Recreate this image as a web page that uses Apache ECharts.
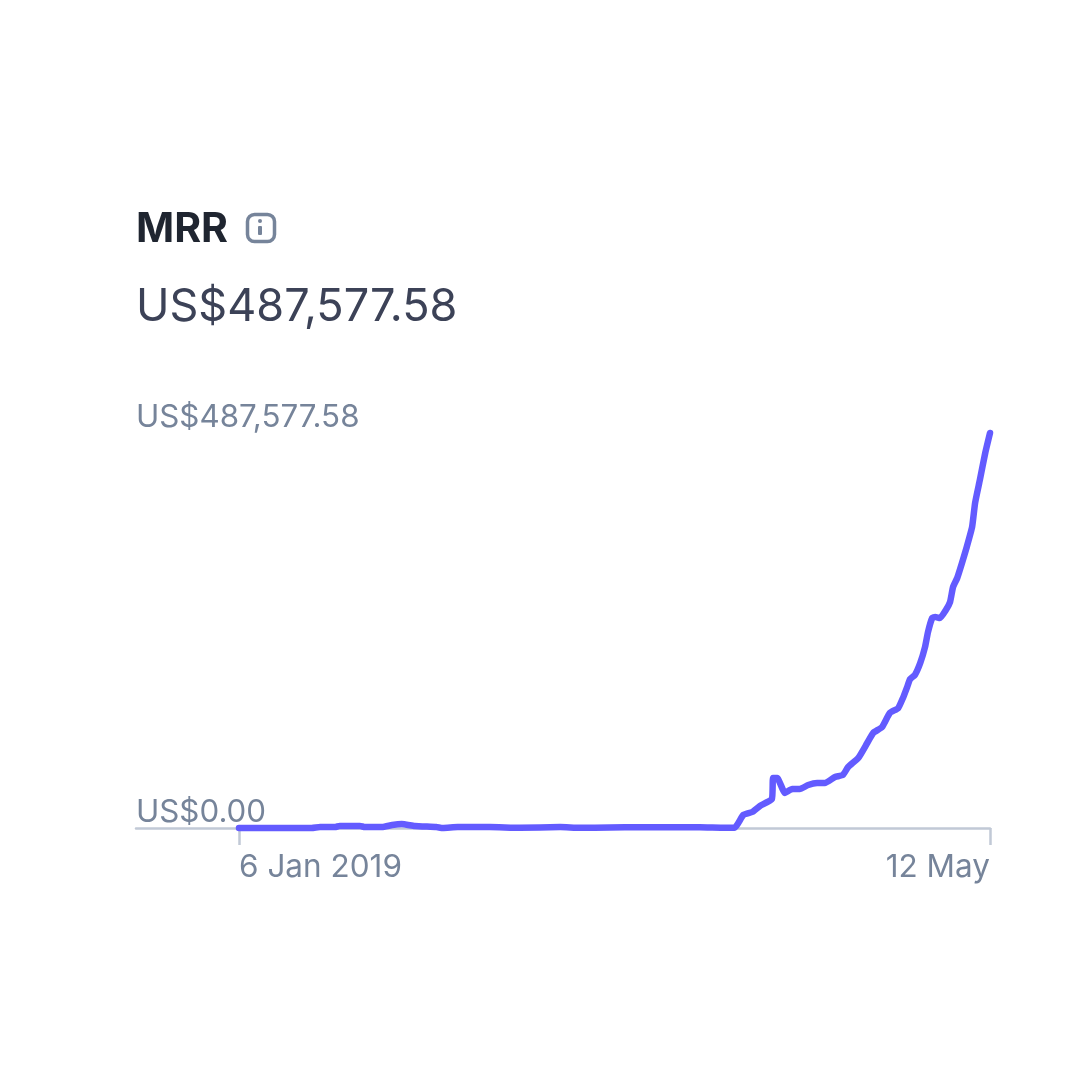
<!DOCTYPE html>
<html>
<head>
<meta charset="utf-8">
<style>html,body{margin:0;padding:0;background:#fff}#c{width:1080px;height:1080px}</style>
<script src="https://cdn.jsdelivr.net/npm/echarts@6/dist/echarts.min.js"></script>
</head>
<body>
<div id="c"></div>
<script>
const titleText = 'MRR';
const headlineText = 'US$487,577.58';
const yTickLabels = ['US$0.00', 'US$487,577.58'];
const xTickLabels = ['6 Jan 2019', '12 May'];
const xTickDays = [0, 126];
const maxValue = 487577.58;
const days = [0,12.2,13.6,16.1,16.9,20.3,21.1,24,25.7,27.3,29.5,33.1,34.2,36.7,42.1,47.1,53.9,57.2,62.2,67.3,77.3,81.5,83.2,84.6,86.1,87.4,89.4,89.6,90.3,91.6,92.8,94.1,95.5,97,98.3,100,101.3,102.2,103.9,105.4,106.4,107.9,109.2,110.6,111.4,112.1,112.6,113.4,114.3,115.1,115.6,116.3,116.8,117.6,118.6,119.3,119.8,120.5,121.3,122.1,123,123.5,124.3,125.2,126];
const mrr = [0,0,1200,1200,2500,2500,1200,1200,3700,4900,2500,1200,0,1200,1200,300,1200,300,600,1000,1000,300,600,16000,19750,27200,35800,61700,61700,43200,48100,48100,53100,55500,55500,63000,65400,75300,86400,104900,117300,124700,142000,148100,160500,174000,183900,188900,203700,223400,241900,259200,260500,259200,269100,279000,297500,308600,327100,346900,371600,401200,429600,462900,487577.58];

const font = 'Inter, "Open Sans", sans-serif';
const chart = echarts.init(document.getElementById('c'), null, {renderer: 'canvas'});
chart.setOption({
  animation: false,
  backgroundColor: '#ffffff',
  title: [
    {text: titleText, left: 136, top: 209, padding: 0, textStyle: {fontFamily: font, fontSize: 41, fontWeight: 700, color: '#1f2530'}},
    {text: headlineText, left: 136, top: 285, padding: 0, textStyle: {fontFamily: font, fontSize: 45, fontWeight: 400, color: '#3c4257'}}
  ],
  graphic: [
    {type: 'rect', left: 245, top: 212, shape: {width: 27, height: 27, r: 7}, style: {fill: 'none', stroke: '#76849a', lineWidth: 3.5}},
    {type: 'rect', left: 258, top: 219, shape: {width: 4, height: 4, r: 2}, style: {fill: '#76849a'}},
    {type: 'rect', left: 258, top: 226, shape: {width: 4, height: 9, r: 1}, style: {fill: '#76849a'}}
  ],
  grid: {left: 136, right: 90, top: 433, bottom: 252, containLabel: false},
  xAxis: {
    type: 'value',
    min: -17.28,
    max: 126,
    splitLine: {show: false},
    axisLine: {show: true, onZero: false, lineStyle: {color: '#c1c9d6', width: 2.5}},
    axisTick: {show: true, length: 17, customValues: xTickDays, lineStyle: {color: '#c1c9d6', width: 2.5}},
    axisLabel: {
      show: true,
      customValues: xTickDays,
      alignMinLabel: 'left',
      alignMaxLabel: 'right',
      margin: 24,
      fontFamily: font,
      fontSize: 31.5,
      color: '#76849a',
      formatter: v => xTickLabels[xTickDays.indexOf(v)]
    }
  },
  yAxis: {
    type: 'value',
    min: 0,
    max: maxValue,
    interval: maxValue,
    splitLine: {show: false},
    axisLine: {show: false},
    axisTick: {show: false},
    axisLabel: {
      inside: true,
      margin: 0,
      align: 'left',
      verticalAlign: 'bottom',
      fontFamily: font,
      fontSize: 31.3,
      color: '#76849a',
      formatter: v => (v === 0 ? yTickLabels[0] : yTickLabels[1])
    }
  },
  series: [{
    type: 'line',
    data: days.map((d, i) => [d, mrr[i]]),
    showSymbol: false,
    clip: false,
    smooth: 0.15,
    lineStyle: {color: '#635bff', width: 6.5, cap: 'round', join: 'round'}
  }]
});
</script>
</body>
</html>
